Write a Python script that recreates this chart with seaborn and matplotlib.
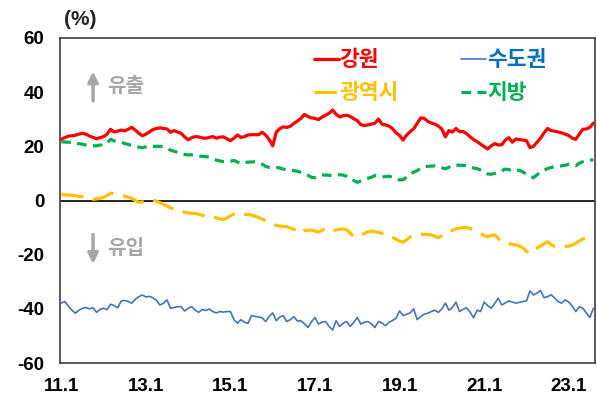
import matplotlib
matplotlib.use("Agg")
import matplotlib.pyplot as plt
import numpy as np
import pandas as pd
import seaborn as sns

# Monthly series, 2011.1 - 2023.8 (one row per year)
gangwon = [
    22.6, 23.2, 23.8, 23.9, 24.1, 24.5, 24.8, 24.5, 23.8, 23.3, 22.8, 23.2,
    23.6, 24.5, 26.3, 25.3, 25.6, 26.0, 25.7, 26.3, 27.0, 26.0, 24.8, 23.9,
    24.5, 25.3, 26.2, 26.6, 26.8, 26.6, 26.4, 25.2, 25.8, 25.3, 24.8, 23.5,
    22.4, 23.2, 23.6, 23.5, 23.1, 23.0, 23.3, 23.6, 23.0, 23.4, 23.5, 22.8,
    22.1, 23.0, 24.2, 23.3, 23.6, 24.2, 24.3, 24.3, 24.3, 25.2, 24.2, 22.5,
    20.2, 25.2, 26.5, 27.2, 27.0, 27.4, 28.5, 29.3, 30.3, 31.8, 31.0, 30.5,
    30.3, 29.9, 30.8, 31.5, 32.2, 33.4, 31.8, 30.9, 31.3, 31.5, 31.0, 30.2,
    29.5, 28.0, 27.7, 27.9, 28.2, 28.5, 30.1, 28.2, 27.9, 27.5, 26.5, 25.0,
    24.0, 22.3, 24.2, 25.4, 26.5, 28.5, 30.5, 30.3, 29.2, 28.6, 28.2, 27.5,
    26.4, 23.5, 25.8, 25.3, 26.6, 25.4, 25.5, 24.7, 23.5, 22.5, 21.7, 20.8,
    19.9, 19.0, 20.2, 21.0, 20.5, 20.6, 22.3, 23.2, 21.5, 22.7, 22.5, 22.3,
    22.1, 19.5, 20.0, 21.5, 23.0, 25.0, 26.6, 25.8, 25.6, 25.3, 25.0, 24.5,
    24.0, 23.0, 22.6, 24.5, 26.3, 26.4, 27.0, 28.6,
]

sudogwon = [
    -37.9, -37.3, -39.0, -40.5, -41.6, -40.5, -39.8, -39.5, -40.0, -39.6, -41.3, -40.2,
    -39.8, -40.3, -38.3, -38.8, -39.6, -37.1, -36.9, -37.3, -37.9, -36.5, -35.5, -34.9,
    -35.6, -35.4, -35.9, -36.8, -38.6, -37.9, -36.7, -39.8, -39.5, -39.2, -39.2, -40.8,
    -39.8, -39.2, -40.5, -41.3, -40.2, -40.6, -40.1, -41.0, -41.5, -41.0, -41.2, -41.0,
    -41.0, -44.0, -45.3, -44.0, -45.0, -45.3, -42.5, -42.8, -43.0, -43.3, -44.7, -42.8,
    -41.5, -44.4, -43.0, -42.5, -44.7, -44.0, -42.9, -44.5, -44.4, -45.5, -46.9, -44.8,
    -43.2, -45.6, -44.9, -44.7, -46.5, -47.8, -44.4, -46.5, -45.3, -44.7, -46.5, -45.0,
    -43.2, -45.6, -45.0, -44.7, -45.5, -46.9, -44.7, -45.2, -46.2, -45.0, -44.3, -43.5,
    -40.8, -42.5, -42.0, -41.5, -40.0, -44.0, -42.8, -42.0, -41.6, -41.0, -40.5, -41.3,
    -40.0, -37.9, -40.5, -39.5, -37.5, -41.0, -40.2, -39.6, -41.2, -43.3, -40.5, -41.0,
    -37.5, -38.8, -39.8, -38.0, -36.1, -38.6, -37.8, -37.1, -37.5, -37.9, -37.6, -37.3,
    -37.1, -33.4, -34.9, -34.2, -33.2, -35.9, -35.5, -34.8, -36.0, -37.3, -37.9, -36.7,
    -37.5, -39.0, -41.0, -39.2, -39.8, -41.5, -43.2, -39.8,
]

gwangyeoksi = [
    2.2, 2.1, 2.0, 2.0, 1.8, 1.5, 1.4, 1.2, 0.8, 0.4, 0.6, 0.8,
    1.2, 1.8, 2.7, 2.5, 2.0, 1.8, 1.6, 1.2, 0.8, 0.0, -0.7, -0.5,
    -0.4, 0.0, 0.2, -0.3, -0.8, -1.4, -2.0, -2.7, -3.2, -3.6, -4.1, -4.3,
    -4.6, -4.7, -4.8, -5.1, -5.4, -5.8, -6.0, -6.2, -6.4, -6.8, -7.0, -6.5,
    -5.6, -5.0, -4.7, -4.9, -5.1, -5.2, -5.4, -5.8, -6.3, -6.8, -7.5, -8.2,
    -8.8, -9.2, -9.4, -9.6, -9.7, -10.2, -10.6, -11.4, -12.1, -11.1, -11.0, -10.9,
    -11.3, -11.7, -11.0, -10.3, -10.8, -11.3, -10.9, -10.6, -10.5, -10.8, -12.0, -13.4,
    -13.0, -12.7, -12.2, -11.6, -11.3, -11.5, -11.8, -12.1, -12.5, -13.0, -13.6, -14.3,
    -15.0, -15.4, -14.5, -13.5, -13.0, -12.8, -12.5, -12.5, -12.6, -12.7, -13.2, -13.7,
    -13.0, -12.2, -11.5, -11.0, -10.5, -10.2, -10.0, -10.0, -10.4, -10.8, -11.3, -12.2,
    -13.0, -13.4, -12.9, -12.7, -14.0, -15.4, -15.8, -16.0, -16.2, -16.4, -16.8, -17.5,
    -18.8, -19.5, -18.5, -17.6, -16.8, -16.0, -15.2, -16.2, -17.0, -17.0, -17.0, -17.0,
    -16.8, -16.4, -15.8, -15.0, -14.2, -14.0, -13.8, -13.6,
]

jibang = [
    21.7, 21.6, 21.5, 21.5, 21.2, 21.0, 20.8, 20.5, 20.3, 20.2, 20.2, 20.5,
    20.4, 21.2, 22.6, 22.0, 21.8, 21.6, 21.0, 20.7, 20.3, 20.0, 19.7, 19.5,
    19.8, 20.0, 20.0, 20.0, 20.0, 19.8, 19.3, 18.6, 18.2, 17.8, 17.3, 17.0,
    16.8, 16.9, 16.6, 16.4, 16.3, 16.2, 16.0, 15.4, 14.9, 14.6, 14.4, 14.3,
    14.5, 14.8, 14.2, 13.7, 13.9, 14.2, 14.2, 14.3, 14.0, 13.4, 12.6, 12.2,
    12.1, 12.2, 12.0, 11.6, 11.3, 11.2, 11.0, 10.8, 10.4, 10.0, 9.3, 8.6,
    8.4, 9.0, 9.4, 9.4, 9.3, 9.2, 9.4, 9.5, 9.4, 8.9, 8.2, 7.4,
    6.7, 7.2, 7.8, 8.2, 8.6, 9.2, 9.1, 8.7, 8.8, 9.0, 8.5, 8.0,
    7.6, 7.7, 8.6, 9.5, 10.5, 11.0, 12.0, 12.5, 12.6, 12.7, 12.8, 12.6,
    12.1, 11.7, 12.3, 13.0, 13.1, 13.0, 13.0, 12.8, 12.2, 12.0, 11.8, 11.2,
    10.5, 9.8, 9.7, 10.0, 10.3, 11.0, 11.6, 11.4, 10.9, 11.0, 11.2, 10.5,
    9.7, 9.0, 8.4, 9.5, 10.5, 11.2, 11.8, 12.2, 12.5, 12.6, 12.8, 13.0,
    13.4, 13.3, 12.8, 13.8, 14.3, 14.6, 14.9, 15.0,
]

series_names = ["강원", "수도권", "광역시", "지방"]
tick_labels = ["11.1", "13.1", "15.1", "17.1", "19.1", "21.1", "23.1"]
y_ticks = [-60, -40, -20, 0, 20, 40, 60]

months = np.arange(len(gangwon))
df = pd.DataFrame({
    "t": months,
    "강원": gangwon,
    "수도권": sudogwon,
    "광역시": gwangyeoksi,
    "지방": jibang,
})

sns.set_theme(style="white")
plt.rcParams["font.family"] = ["Liberation Sans", "Noto Sans CJK KR", "DejaVu Sans"]
plt.rcParams["axes.unicode_minus"] = False

fig = plt.figure(figsize=(5.97, 3.95), dpi=100)
ax = fig.add_axes([0.0997, 0.081, 0.8972, 0.8228])

styles = {
    "강원": dict(color="#FF0000", lw=2.3, ls="-"),
    "수도권": dict(color="#4472C4", lw=1.2, ls="-"),
    "광역시": dict(color="#FFC000", lw=2.3, ls=(0, (7, 3))),
    "지방": dict(color="#00B050", lw=2.3, ls=(0, (3, 2))),
}
text_colors = {"강원": "#FF0000", "수도권": "#0070C0", "광역시": "#FFC000", "지방": "#00B050"}

ax.axhline(0, color="black", lw=1.2, zorder=1)

for name in ["수도권", "광역시", "지방", "강원"]:
    st = styles[name]
    sns.lineplot(data=df, x="t", y=name, ax=ax, color=st["color"],
                 linewidth=st["lw"], linestyle=st["ls"], label=name,
                 zorder=3)

ax.set_xlim(-0.5, len(gangwon) - 0.5)
ax.set_ylim(-60, 60)
ax.set_yticks(y_ticks)
ax.set_yticklabels([str(v) for v in y_ticks], fontsize=13.5, fontweight="bold")
ax.set_xticks(np.arange(0, len(gangwon), 24)[:len(tick_labels)])
ax.set_xticklabels(tick_labels, fontsize=13.5, fontweight="bold")
ax.set_xlabel("")
ax.set_ylabel("")
ax.tick_params(axis="y", direction="in", length=4, width=1, pad=11, colors="black")
ax.tick_params(axis="x", length=0, pad=11, colors="black")
for sp in ax.spines.values():
    sp.set_color("#404040")
    sp.set_linewidth(1.2)

# Legend: two columns, text coloured like its line
handles, labels = ax.get_legend_handles_labels()
lookup = dict(zip(labels, handles))
order = ["강원", "광역시", "수도권", "지방"]
leg = ax.legend([lookup[n] for n in order], order, ncol=2, frameon=False,
                loc="upper left", bbox_to_anchor=(0.475, 0.965),
                borderpad=0, borderaxespad=0,
                handlelength=1.15, handletextpad=0.05, columnspacing=2.9,
                labelspacing=0.55,
                prop={"family": ["Noto Sans CJK KR"], "weight": "bold", "size": 15.5})
for txt in leg.get_texts():
    txt.set_color(text_colors[txt.get_text()])

# Direction notes
gray = "#A6A6A6"
ax.annotate("", xy=(0.0626, 0.897), xytext=(0.0626, 0.807), xycoords="axes fraction",
            arrowprops=dict(arrowstyle="-|>,head_length=0.5,head_width=0.25",
                            color=gray, lw=2.5, shrinkA=0, shrinkB=0))
ax.text(0.088, 0.855, "유출", transform=ax.transAxes, color=gray, fontsize=14.5,
        fontweight="bold", family=["Noto Sans CJK KR"], va="center", ha="left")
ax.annotate("", xy=(0.0626, 0.305), xytext=(0.0626, 0.395), xycoords="axes fraction",
            arrowprops=dict(arrowstyle="-|>,head_length=0.5,head_width=0.25",
                            color=gray, lw=2.5, shrinkA=0, shrinkB=0))
ax.text(0.088, 0.354, "유입", transform=ax.transAxes, color=gray, fontsize=14.5,
        fontweight="bold", family=["Noto Sans CJK KR"], va="center", ha="left")

fig.text(0.108, 0.95, "(%)", fontsize=15, fontweight="bold", ha="left", va="center")

fig.savefig("out.png", dpi=100)
